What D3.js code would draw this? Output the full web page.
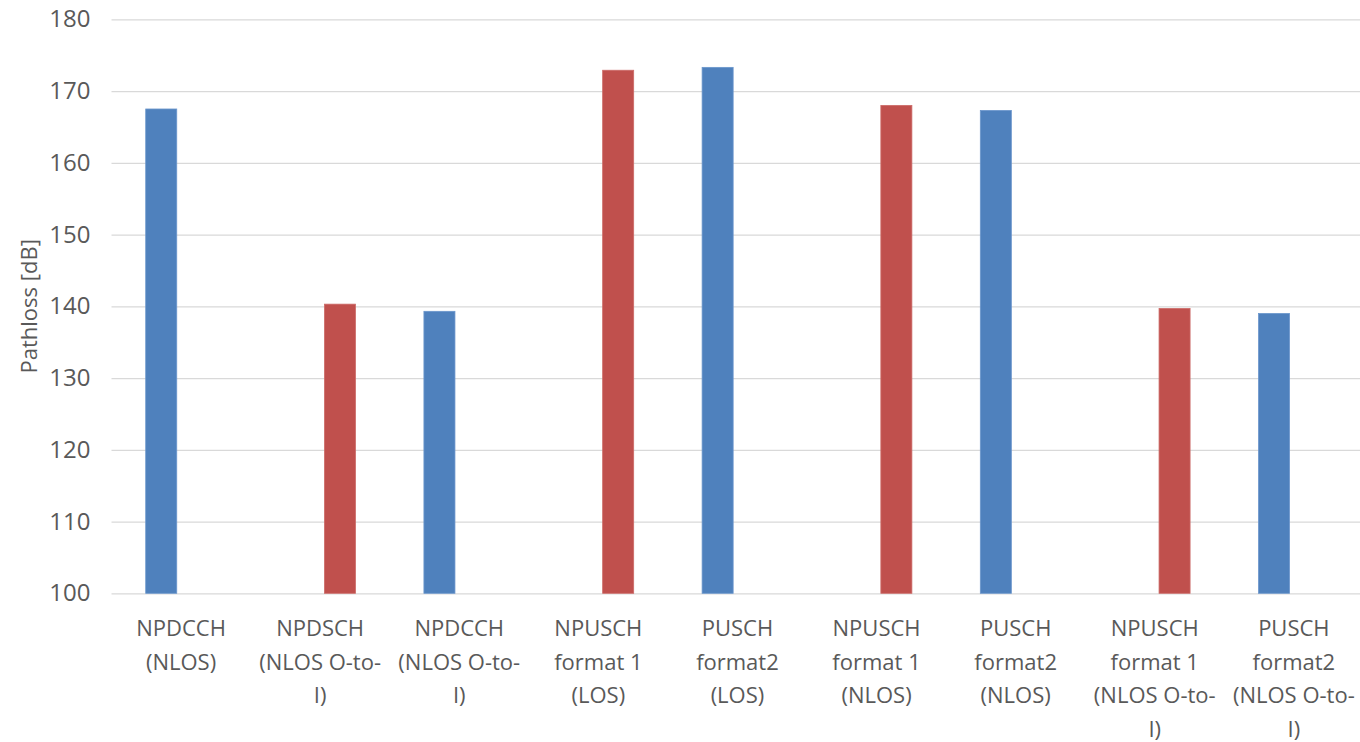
<!DOCTYPE html>
<html>
<head>
<meta charset="utf-8">
<script src="https://cdn.jsdelivr.net/npm/d3@7"></script>
<style>
  html, body { margin: 0; padding: 0; background: #ffffff; }
  svg { display: block; }
  text { font-family: "Open Sans", "Noto Sans", sans-serif; fill: #595959; }
</style>
</head>
<body>
<svg id="chart" width="1360" height="742"></svg>
<script>
// Category labels (line breaks mark where each label wraps)
const categories = [
  "NPDCCH\n(NLOS)",
  "NPDSCH\n(NLOS O-to-\nI)",
  "NPDCCH\n(NLOS O-to-\nI)",
  "NPUSCH\nformat 1\n(LOS)",
  "PUSCH\nformat2\n(LOS)",
  "NPUSCH\nformat 1\n(NLOS)",
  "PUSCH\nformat2\n(NLOS)",
  "NPUSCH\nformat 1\n(NLOS O-to-\nI)",
  "PUSCH\nformat2\n(NLOS O-to-\nI)"
];

// Two series; null where a category has no value in that series
const seriesNames = ["Series A", "Series B"];
const seriesA = [167.5, null, 139.3, null, 173.3, null, 167.3, null, 139.0];
const seriesB = [null, 140.3, null, 172.9, null, 168.0, null, 139.7, null];

const yTicks = [100, 110, 120, 130, 140, 150, 160, 170, 180];
const yTitle = "Pathloss [dB]";

const colors = { "Series A": "#4F81BD", "Series B": "#C0504D" };
const strokes = { "Series A": "#6b96cc", "Series B": "#cc6b68" };

const svg = d3.select("#chart");
const margin = { top: 19.3, right: -3.4, bottom: 148.7, left: 111.5 };
const width = 1360 - margin.left - margin.right;
const height = 742 - margin.top - margin.bottom;

const g = svg.append("g").attr("transform", `translate(${margin.left},${margin.top})`);

const x0 = d3.scaleBand().domain(categories).range([0, width]).padding(0);
const bw = x0.bandwidth();
const x1 = d3.scaleBand().domain(seriesNames)
  .range([bw * 0.246, bw * 0.754]).paddingInner(0.217).paddingOuter(0);
const y = d3.scaleLinear().domain([100, 180]).range([height, 0]);

// Horizontal gridlines with value labels
const yAxis = d3.axisLeft(y).tickValues(yTicks).tickSize(-width).tickFormat(d3.format("d"));
const yg = g.append("g").call(yAxis);
yg.select(".domain").remove();
yg.selectAll(".tick line").attr("stroke", "#d9d9d9").attr("stroke-width", 1.3);
yg.selectAll(".tick text").style("font-size", "24px").attr("fill", "#595959").attr("x", -21);

// Bars
const rows = categories.map((c, i) => ({ cat: c, vals: [
  { s: "Series A", v: seriesA[i] }, { s: "Series B", v: seriesB[i] }
].filter(d => d.v != null) }));

const groups = g.selectAll(".cat").data(rows).join("g")
  .attr("class", "cat")
  .attr("transform", d => `translate(${x0(d.cat)},0)`);

groups.selectAll("rect").data(d => d.vals).join("rect")
  .attr("x", d => x1(d.s))
  .attr("width", x1.bandwidth())
  .attr("y", d => y(d.v))
  .attr("height", d => y(100) - y(d.v))
  .attr("fill", d => colors[d.s])
  .attr("stroke", d => strokes[d.s])
  .attr("stroke-width", 0.8);

// Category axis labels (wrapped)
const xg = g.append("g").attr("transform", `translate(0,${height})`);
const lab = xg.selectAll("text").data(categories).join("text")
  .attr("x", d => x0(d) + bw / 2)
  .attr("y", 43)
  .attr("text-anchor", "middle")
  .style("font-size", "22px");
lab.selectAll("tspan").data(d => d.split("\n")).join("tspan")
  .attr("x", function () { return d3.select(this.parentNode).attr("x"); })
  .attr("dy", (d, i) => i === 0 ? 0 : 33.5)
  .text(d => d);

// Y axis title
svg.append("text")
  .attr("transform", `translate(37,${margin.top + height / 2}) rotate(-90)`)
  .attr("text-anchor", "middle")
  .style("font-size", "22px")
  .text(yTitle);
</script>
</body>
</html>
